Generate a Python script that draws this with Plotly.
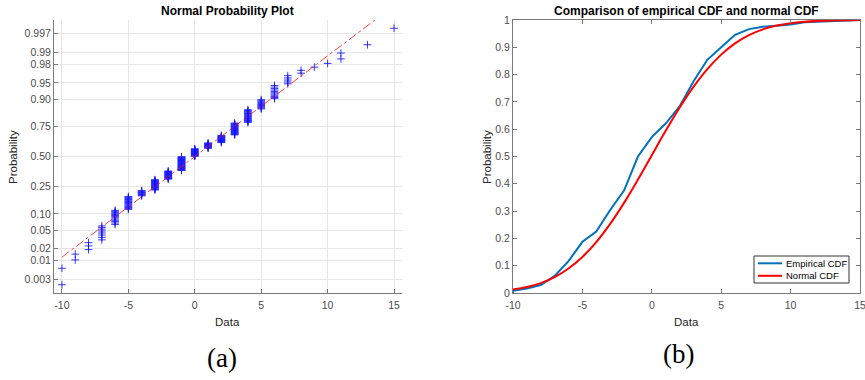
import numpy as np
import plotly.graph_objects as go
from statistics import NormalDist

# ---------------- data ----------------
values = list(range(-10, 16))
counts = [2, 2, 3, 8, 13, 17, 9, 19, 17, 30, 17, 12, 15, 22, 19, 11, 11, 5, 2, 1, 1, 2, 0, 1, 0, 1]

prob_ticks = [0.003, 0.01, 0.02, 0.05, 0.10, 0.25, 0.50, 0.75, 0.90, 0.95, 0.98, 0.99, 0.997]
prob_tick_labels = ['0.003', '0.01', '0.02', '0.05', '0.10', '0.25', '0.50', '0.75',
                    '0.90', '0.95', '0.98', '0.99', '0.997']
x_ticks = [-10, -5, 0, 5, 10, 15]
x_tick_labels = ['-10', '-5', '0', '5', '10', '15']
cdf_ticks = [0, 0.1, 0.2, 0.3, 0.4, 0.5, 0.6, 0.7, 0.8, 0.9, 1.0]
cdf_tick_labels = ['0', '0.1', '0.2', '0.3', '0.4', '0.5', '0.6', '0.7', '0.8', '0.9', '1']
legend_labels = ['Empirical CDF', 'Normal CDF']
legend_colors = ['#0072bd', '#ff0000']

# ---------------- derived ----------------
std_norm = NormalDist()
data = np.repeat(values, counts)
n = len(data)
plot_pos = (np.arange(1, n + 1) - 0.5) / n
z_pos = [std_norm.inv_cdf(p) for p in plot_pos]

q1, q3 = np.percentile(data, [25, 75])
z1, z3 = std_norm.inv_cdf(0.25), std_norm.inv_cdf(0.75)
slope = (z3 - z1) / (q3 - q1)
ref_x = [data.min(), data.max()]
ref_y = [z1 + slope * (x - q1) for x in ref_x]

present = [v for v, c in zip(values, counts) if c > 0]
cum = np.cumsum(counts) / n
ecdf_x = [present[0]] + present
ecdf_y = [0.0] + [cum[values.index(v)] for v in present]

mu, sigma = float(np.mean(data)), float(np.std(data, ddof=1))
fit = NormalDist(mu, sigma)
norm_x = values
norm_y = [fit.cdf(v) for v in values]

# ---------------- figure ----------------
W, H = 865, 380
def fx(px):
    return px / W
def fy(py):
    return 1 - py / H

FONT = 'Liberation Sans, Arial, sans-serif'
TICKC = '#4d4d4d'
AXC = '#7a7a7a'

fig = go.Figure()
fig.add_trace(go.Scatter(
    x=data, y=z_pos, mode='markers', xaxis='x', yaxis='y', showlegend=False,
    marker=dict(symbol='cross-thin', size=5.5, color='rgba(20,20,255,0.85)',
                line=dict(width=1, color='rgba(20,20,255,0.85)')),
    hoverinfo='skip'))
fig.add_trace(go.Scatter(
    x=ref_x, y=ref_y, mode='lines', xaxis='x', yaxis='y', showlegend=False,
    line=dict(color='rgba(255,0,0,0.75)', width=1, dash='dashdot'), hoverinfo='skip'))

fig.add_trace(go.Scatter(
    x=ecdf_x, y=ecdf_y, mode='lines', xaxis='x2', yaxis='y2', name=legend_labels[0],
    showlegend=False, line=dict(color=legend_colors[0], width=2)))
fig.add_trace(go.Scatter(
    x=norm_x, y=norm_y, mode='lines', xaxis='x2', yaxis='y2', name=legend_labels[1],
    showlegend=False, line=dict(color=legend_colors[1], width=2, shape='spline')))

tickfont = dict(family=FONT, size=10.5, color=TICKC)
common = dict(showline=True, linecolor=AXC, linewidth=1, ticks='inside', ticklen=4,
              tickcolor=AXC, zeroline=False, tickfont=tickfont, fixedrange=True,
              automargin=False, ticklabeloverflow='allow')

fig.update_layout(
    width=W, height=H, autosize=False,
    margin=dict(l=0, r=0, t=0, b=0, autoexpand=False),
    paper_bgcolor='white', plot_bgcolor='white',
    xaxis=dict(domain=[fx(54), fx(402)], range=[-10.6, 15.6], anchor='y',
               tickvals=x_ticks, ticktext=x_tick_labels, ticklabelstandoff=2,
               showgrid=True, gridcolor='#e6e6e6', gridwidth=1, **common),
    yaxis=dict(domain=[fy(293), fy(20)], range=[-3.05, 3.05], anchor='x',
               tickvals=[std_norm.inv_cdf(p) for p in prob_ticks], ticktext=prob_tick_labels,
               showgrid=True, gridcolor='#e6e6e6', gridwidth=1, **common),
    xaxis2=dict(domain=[fx(513), fx(860)], range=[-10, 15], anchor='y2',
                tickvals=x_ticks, ticktext=x_tick_labels, ticklabelstandoff=2,
                showgrid=False, mirror='ticks', **common),
    yaxis2=dict(domain=[fy(293), fy(20)], range=[0, 1], anchor='x2',
                tickvals=cdf_ticks, ticktext=cdf_tick_labels, showgrid=False,
                mirror='ticks', **common),
    showlegend=False,
)

ann = []
def add_text(text, x, y, size, bold=False, angle=0, family=FONT, color='#262626',
             xanchor='center'):
    ann.append(dict(text=('<b>%s</b>' % text) if bold else text,
                    x=fx(x), y=fy(y), xref='paper', yref='paper',
                    xanchor=xanchor, yanchor='middle', showarrow=False,
                    textangle=angle, font=dict(family=family, size=size, color=color)))

add_text('Normal Probability Plot', 228, 11, 12, bold=True, color='#000000')
add_text('Comparison of empirical CDF and normal CDF', 686.5, 11, 12, bold=True, color='#000000')
add_text('Probability', 13, 157, 11.5, angle=-90)
add_text('Probability', 487, 157, 11.5, angle=-90)
add_text('Data', 228, 322, 11.5)
add_text('Data', 686, 322, 11.5)
add_text('(a)', 222, 358, 27, family='Liberation Serif, Times New Roman, serif', color='#000000')
add_text('(b)', 678, 354, 27, family='Liberation Serif, Times New Roman, serif', color='#000000')

# legend box (drawn compactly, MATLAB style)
shapes = [dict(type='rect', xref='paper', yref='paper', x0=fx(754), x1=fx(849),
               y0=fy(283), y1=fy(256), line=dict(color='#333333', width=1),
               fillcolor='white', layer='above')]
for i, (lab, col) in enumerate(zip(legend_labels, legend_colors)):
    yy = 263.3 + i * 12.5
    shapes.append(dict(type='line', xref='paper', yref='paper', x0=fx(758), x1=fx(782),
                       y0=fy(yy), y1=fy(yy), line=dict(color=col, width=2), layer='above'))
    add_text(lab, 784, yy, 9.5, color='#000000', xanchor='left')

fig.update_layout(annotations=ann, shapes=shapes)

fig.write_html('out.html', config={'displayModeBar': False},
               post_script="document.body.style.margin='0';document.body.style.overflow='hidden';")
